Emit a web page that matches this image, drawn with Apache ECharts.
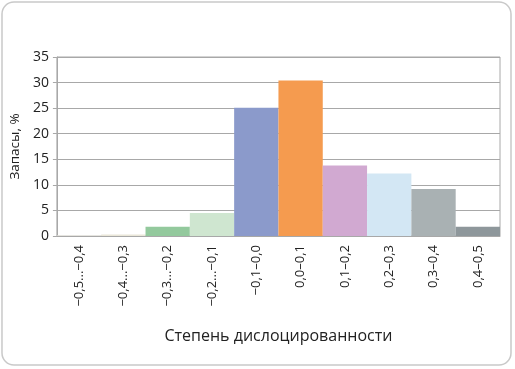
<!DOCTYPE html>
<html lang="ru">
<head>
    <meta charset="UTF-8">
    <title>Запасы по степени дислоцированности</title>
    <script src="https://cdn.jsdelivr.net/npm/echarts@6/dist/echarts.min.js"></script>
    <style>
        html, body { margin: 0; padding: 0; background: #fff; }
        #chart { width: 515px; height: 369px; }
    </style>
</head>
<body>
    <div id="chart"></div>
    <script>
        // интервалы степени дислоцированности
        var categories = ['−0,5...−0,4', '−0,4...−0,3', '−0,3...−0,2', '−0,2...−0,1', '−0,1–0,0',
                          '0,0–0,1', '0,1–0,2', '0,2–0,3', '0,3–0,4', '0,4–0,5'];
        // запасы, %
        var values = [0.1, 0.3, 1.8, 4.5, 25.1, 30.4, 13.8, 12.2, 9.2, 1.8];
        var barColors = ['#f6f3ea', '#e9e6d8', '#93c99d', '#cfe6d0', '#8b9acb',
                         '#f59b4f', '#d1a9d1', '#d3e7f4', '#a9b1b3', '#8e979b'];
        var yTicks = { min: 0, max: 35, step: 5 };

        var font = '"Open Sans", sans-serif';

        var chart = echarts.init(document.getElementById('chart'));

        var option = {
            backgroundColor: '#fff',
            animation: false,
            graphic: [{
                type: 'rect',
                shape: { x: 2, y: 2, width: 509, height: 363, r: 12 },
                style: { fill: 'none', stroke: '#c9c9c9', lineWidth: 1.5 },
                z: -1
            }],
            grid: {
                left: 48, right: 15, top: 57, bottom: 133,
                show: true, borderColor: '#a8a8a8', borderWidth: 1
            },
            xAxis: {
                type: 'category',
                data: categories,
                axisLine: { lineStyle: { color: '#a8a8a8' } },
                axisTick: { show: false },
                axisLabel: {
                    rotate: 90, color: '#222', fontFamily: font, fontSize: 13, margin: 9
                },
                name: 'Степень дислоцированности',
                nameLocation: 'middle',
                nameGap: 92,
                nameTextStyle: { color: '#222', fontFamily: font, fontSize: 16 }
            },
            yAxis: {
                type: 'value',
                min: yTicks.min, max: yTicks.max, interval: yTicks.step,
                axisLine: { show: true, lineStyle: { color: '#a8a8a8' } },
                axisTick: { show: true, length: 4, lineStyle: { color: '#a8a8a8' } },
                splitLine: { lineStyle: { color: '#a8a8a8' } },
                axisLabel: { color: '#222', fontFamily: font, fontSize: 14, margin: 8 },
                name: 'Запасы, %',
                nameLocation: 'middle',
                nameGap: 34,
                nameTextStyle: { color: '#222', fontFamily: font, fontSize: 13.5 }
            },
            series: [{
                type: 'bar',
                barCategoryGap: 0,
                data: values.map(function (v, i) {
                    return { value: v, itemStyle: { color: barColors[i] } };
                })
            }]
        };

        chart.setOption(option);
    </script>
</body>
</html>
